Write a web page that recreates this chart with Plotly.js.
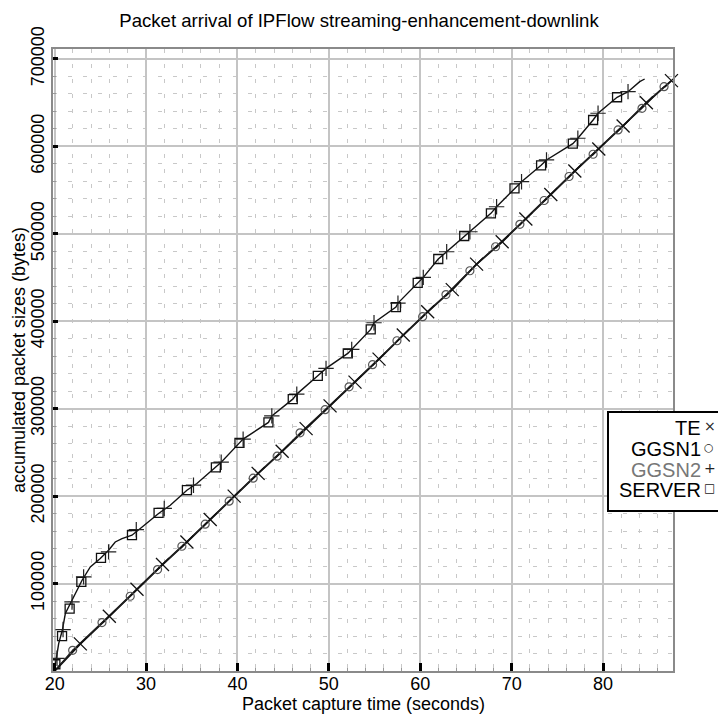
<!DOCTYPE html>
<html>
<head>
<meta charset="utf-8">
<script src="https://cdn.plot.ly/plotly-3.0.1.min.js"></script>
<style>
  html, body { margin: 0; padding: 0; background: #fff; }
  #chart { width: 718px; height: 716px; }
</style>
</head>
<body>
<div id="chart"></div>
<script>
// ---- data (time in seconds, accumulated bytes) ----
const teTime = [20, 22.81, 25.98, 29.01, 31.80, 34.47, 37.02, 39.64, 42.26, 44.89, 47.51, 50.13, 52.86, 55.49, 58.14, 60.81, 63.50, 66.16, 68.96, 71.55, 74.28, 76.91, 79.53, 82.19, 84.74, 87.48];
const teBytes = [0, 31000, 62600, 93500, 121800, 147600, 173300, 200000, 226000, 251400, 277200, 303200, 330400, 356700, 384200, 410800, 436200, 465400, 491000, 516900, 545000, 571900, 597000, 623400, 650000, 675200];

const ggsn1Time = [20, 21.97, 25.18, 28.27, 31.26, 33.92, 36.47, 39.09, 41.72, 44.34, 46.85, 49.59, 52.21, 54.78, 57.45, 60.26, 62.81, 65.43, 68.24, 70.90, 73.55, 76.28, 78.91, 81.64, 84.26, 86.67];
const ggsn1Bytes = [0, 23700, 55400, 85500, 116000, 142700, 167900, 194200, 220500, 245700, 272400, 298900, 325000, 350400, 377700, 405300, 430500, 457800, 485200, 510900, 538100, 565600, 591000, 618800, 643600, 668300];

const ggsn2Time = [20.26, 20.92, 21.90, 23.17, 25.90, 28.93, 31.99, 35.19, 38.22, 40.62, 43.76, 46.49, 49.69, 52.50, 54.94, 57.56, 60.33, 62.89, 65.43, 68.35, 71.08, 73.81, 77.24, 79.45, 82.73];
const ggsn2Bytes = [14500, 47400, 79000, 107600, 136200, 161700, 185900, 212500, 238800, 265200, 291800, 316700, 346100, 367800, 398300, 420800, 450200, 479500, 502400, 531000, 559600, 584500, 609300, 637900, 662600];

const serverTime = [20.08, 20.81, 21.64, 22.92, 25.07, 28.46, 31.37, 34.47, 37.64, 40.22, 43.39, 46.05, 48.79, 52.07, 54.58, 57.34, 59.72, 61.97, 64.81, 67.73, 70.31, 73.22, 76.69, 78.91, 81.53];
const serverBytes = [7700, 39800, 71400, 101900, 129300, 155300, 180800, 206800, 232800, 260900, 284300, 310900, 337600, 363200, 390700, 416200, 444000, 471200, 497500, 523400, 552100, 578400, 603100, 630200, 656200];

// shared arrival path of GGSN2 / SERVER (the two curves overlap)
const upperPathTime = [20, 20.08, 20.44, 20.84, 21.17, 21.72, 22.45, 23.0, 23.90, 24.99, 25.90, 26.63, 27.37, 28.46, 29.37, 30.46, 31.37, 32.65, 34.47, 35.56, 37.64, 38.22, 40.22, 40.62, 43.39, 43.76, 46.05, 46.49, 48.79, 49.69, 52.07, 52.50, 54.58, 54.94, 57.34, 57.56, 59.72, 60.33, 61.97, 62.89, 64.81, 65.43, 67.73, 68.35, 70.31, 71.08, 73.22, 73.81, 76.69, 77.24, 78.91, 79.45, 81.53, 82.73, 84.01, 84.55];
const upperPathBytes = [0, 7700, 31400, 46600, 65700, 77100, 92400, 103800, 119000, 128600, 138100, 147600, 151500, 155300, 163000, 172600, 180100, 189600, 206800, 214500, 232800, 238800, 260900, 265200, 284300, 291800, 310900, 316700, 337600, 346100, 363200, 367800, 390700, 398300, 416200, 420800, 444000, 450200, 471200, 479500, 497500, 502400, 523400, 531000, 552100, 559600, 578400, 584500, 603100, 609300, 630200, 637900, 656200, 662600, 674000, 677100];

const legendNames = ['TE', 'GGSN1', 'GGSN2', 'SERVER'];
const legendGlyphs = ['\u00D7', '\u25CB', '+', '\u25A1'];
const xTickVals = [20, 30, 40, 50, 60, 70, 80];
const yTickVals = [0, 100000, 200000, 300000, 400000, 500000, 600000, 700000];
const yTickText = ['', '100000', '200000', '300000', '400000', '500000', '600000', '700000'];

// ---- layout helpers ----
const FONT = 'Liberation Sans, Arial, Helvetica, sans-serif';
const M = { l: 53, r: 45, t: 49, b: 45 };
const W = 718, H = 716;
const pxX = px => (px - M.l) / (W - M.l - M.r);
const pxY = py => (H - M.b - py) / (H - M.t - M.b);

const traces = [
  { x: upperPathTime, y: upperPathBytes, mode: 'lines', line: { color: '#111', width: 1.4 }, hoverinfo: 'skip' },
  { x: teTime, y: teBytes, mode: 'lines', line: { color: '#111', width: 1.9 } },
  { x: ggsn1Time, y: ggsn1Bytes, mode: 'lines', line: { color: '#222', width: 1.2 } },
  { x: teTime.slice(1), y: teBytes.slice(1), mode: 'markers', cliponaxis: false,
    marker: { symbol: 'x-thin-open', size: 13, color: '#111', line: { width: 1.3, color: '#111' } } },
  { x: ggsn1Time.slice(1), y: ggsn1Bytes.slice(1), mode: 'markers',
    marker: { symbol: 'circle-open', size: 8, color: '#555', line: { width: 1.2, color: '#555' } } },
  { x: ggsn2Time, y: ggsn2Bytes, mode: 'markers',
    marker: { symbol: 'cross-thin-open', size: 11, color: '#222', line: { width: 1.2, color: '#222' } } },
  { x: serverTime, y: serverBytes, mode: 'markers',
    marker: { symbol: 'square-open', size: 9, color: '#111', line: { width: 1.3, color: '#111' } } }
];

// legend drawn as a box with right-aligned names followed by symbols
const legY = [428, 449.5, 470, 490];
const legColors = ['#000', '#000', '#777', '#000'];
const legGlyphSize = [14, 11, 14, 12];
const annotations = [];
legendNames.forEach((n, i) => {
  annotations.push({ xref: 'paper', yref: 'paper', x: pxX(703), y: pxY(legY[i]), xanchor: 'right', yanchor: 'middle',
    text: n, showarrow: false, font: { family: FONT, size: 20, color: legColors[i] } });
  annotations.push({ xref: 'paper', yref: 'paper', x: pxX(702), y: pxY(legY[i] - 2), xanchor: 'left', yanchor: 'middle',
    text: legendGlyphs[i], showarrow: false, font: { family: 'DejaVu Sans', size: legGlyphSize[i], color: '#222' } });
});
// axis titles placed as annotations for exact position
annotations.push({ xref: 'paper', yref: 'paper', x: 0.5, y: pxY(704), xanchor: 'center', yanchor: 'middle',
  text: 'Packet capture time (seconds)', showarrow: false, font: { family: FONT, size: 18, color: '#000' } });
annotations.push({ xref: 'paper', yref: 'paper', x: pxX(19), y: 0.5, xanchor: 'center', yanchor: 'middle', textangle: -90,
  text: 'accumulated packet sizes (bytes)', showarrow: false, font: { family: FONT, size: 18, color: '#000' } });

const layout = {
  width: W, height: H,
  margin: M,
  paper_bgcolor: '#fff', plot_bgcolor: '#fff',
  showlegend: false,
  font: { family: FONT, size: 18, color: '#000' },
  title: { text: 'Packet arrival of IPFlow streaming-enhancement-downlink', font: { family: FONT, size: 18.6, color: '#000' },
    xref: 'container', x: 0.5, xanchor: 'center', yref: 'container', y: 1 - 20 / H, yanchor: 'middle' },
  xaxis: {
    range: [19.82, 87.65], tickmode: 'array', tickvals: xTickVals, ticktext: xTickVals.map(String),
    ticks: 'inside', ticklen: 8, tickwidth: 3, tickcolor: '#000', ticklabelstandoff: -5,
    showgrid: true, gridcolor: '#c4c4c4', gridwidth: 2,
    showline: true, linecolor: '#8a8a8a', linewidth: 2, mirror: true, zeroline: false,
    tickfont: { family: FONT, size: 18 },
    minor: { tickmode: 'linear', tick0: 20, dtick: 2, showgrid: true, gridcolor: '#c8c8c8', gridwidth: 1, griddash: '4px,11px',
      ticks: 'inside', ticklen: 3, tickcolor: '#999', tickwidth: 1 }
  },
  yaxis: {
    range: [0, 711400], tickmode: 'array', tickvals: yTickVals, ticktext: yTickText, tickangle: -90,
    ticks: 'inside', ticklen: 5, tickwidth: 3, tickcolor: '#000',
    showgrid: true, gridcolor: '#c4c4c4', gridwidth: 2,
    showline: true, linecolor: '#8a8a8a', linewidth: 2, mirror: true, zeroline: false,
    tickfont: { family: FONT, size: 18 },
    minor: { tickmode: 'linear', tick0: 0, dtick: 20000, showgrid: true, gridcolor: '#c8c8c8', gridwidth: 1, griddash: '4px,11px',
      ticks: 'inside', ticklen: 3, tickcolor: '#999', tickwidth: 1 }
  },
  shapes: [
    { type: 'rect', xref: 'paper', yref: 'paper', x0: pxX(608), x1: pxX(740), y0: pxY(511), y1: pxY(412),
      line: { color: '#000', width: 2 }, fillcolor: '#fff', layer: 'above' }
  ],
  annotations: annotations
};

Plotly.newPlot('chart', traces, layout, { displayModeBar: false, staticPlot: true });
</script>
</body>
</html>
